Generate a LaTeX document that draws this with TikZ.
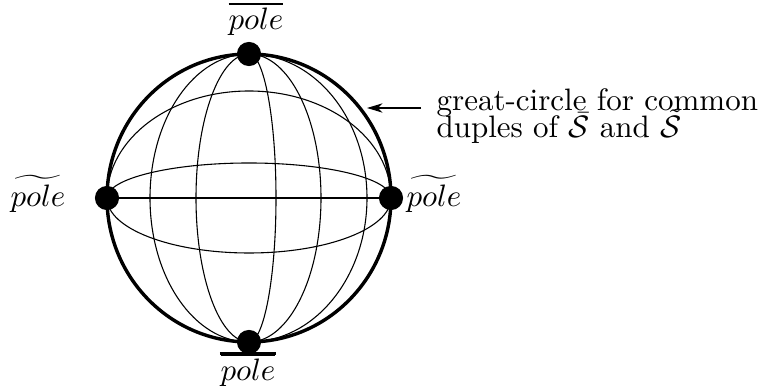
\documentclass[tikz,border=0pt]{standalone}
\usepackage{amsmath, amssymb}
\usepackage{tikz}
\usetikzlibrary{arrows.meta, positioning}

\begin{document}
\begin{tikzpicture}[x=0.3226pt, y=-0.3226pt,
        grid/.style={line width=0.35pt},
        rim/.style={line width=1.1pt},
        pole/.style={circle, fill=black, inner sep=0pt, minimum size=7.8pt},
        lbl/.style={inner sep=0pt, font=\normalsize}]
        \def\u{0.3226pt}
        \useasboundingbox (0,0) rectangle (765,389);
        \coordinate (O) at (249,198);
        \coordinate (Ntop) at (249,54);
        \coordinate (Wlft) at (107,198);
        % meridians through the two bar poles
        \foreach \a in {99, 53} {
            \draw[grid] (Ntop) arc[start angle=90, end angle=270, x radius=\a*\u, y radius=144*\u];
        }
        \foreach \a in {27, 72, 118} {
            \draw[grid] (Ntop) arc[start angle=90, end angle=-90, x radius=\a*\u, y radius=144*\u];
        }
        % circles through the two tilde poles
        \foreach \b in {107, 35} {
            \draw[grid] (Wlft) arc[start angle=180, end angle=0, x radius=142*\u, y radius=\b*\u];
        }
        \draw[grid] (Wlft) arc[start angle=180, end angle=360, x radius=142*\u, y radius=55*\u];
        \draw[rim] (O) ellipse[x radius=142*\u, y radius=144*\u];
        \node[pole] (N) at (Ntop) {};
        \node[pole] (S) at (249,342) {};
        \node[pole] (W) at (Wlft) {};
        \node[pole] (E) at (391,198) {};
        \draw[grid] (W.center) -- (E.center);
        \node[lbl] (nlab) at (256,19) {$\overline{pole}$};
        \node[lbl] (slab) at (248,370) {$\overline{pole}$};
        \draw[line width=0.9pt] ([yshift=-0.4pt]slab.north west) -- ([yshift=-0.4pt]slab.north east);
        \node[lbl, anchor=base] (wlab) at (38,207) {$\widetilde{pole}$};
        \node[lbl, anchor=base] (elab) at (434,207) {$\widetilde{pole}$};
        \node[lbl, anchor=base west] (note) at (436,111) {great-circle for common};
        \node[lbl, anchor=base west] (note2) at (436,138) {duples of $\bar{\mathcal{S}}$ and $\tilde{\mathcal{S}}$};
        \coordinate (tail) at (421,108);
        \coordinate (tip) at (367,108);
        \draw[grid, -{Stealth[length=5pt, width=3pt, inset=1.5pt]}] (tail) -- (tip);
    \end{tikzpicture}
\end{document}
